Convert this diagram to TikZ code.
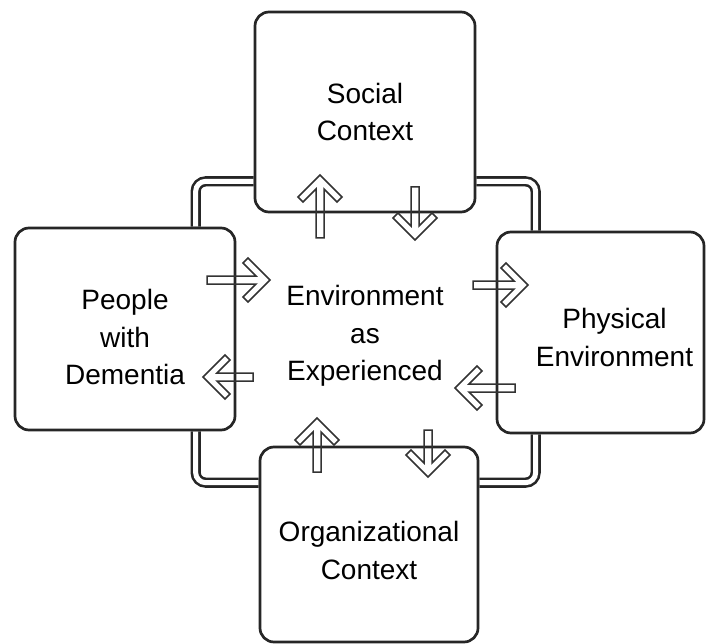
\documentclass[tikz,border=0pt]{standalone}
\usepackage{fontspec}
\setmainfont{Liberation Sans}
\usetikzlibrary{backgrounds}

% hollow block arrow: tip x, tip y, angle, length
\newcommand{\hollowarrow}[4]{%
  \draw [harrow, shift={(#1,#2)}, rotate=#3]
    (0,0) -- (-22,22) -- (-27,17) -- (-14,4) -- (-#4,4)
    -- (-#4,-4) -- (-14,-4) -- (-27,-17) -- (-22,-22) -- cycle;}

\begin{document}
\begin{tikzpicture}[x=1pt, y=-1pt,
    txt/.style = {align=center, font=\fontsize{28}{37.5}\selectfont},
    box/.style = {txt, draw=black!85, line width=2.7pt, rounded corners=14pt, fill=white},
    link/.style = {draw=black!85, double, double distance=5pt, line width=2.6pt, rounded corners=10pt},
    harrow/.style = {draw=black!80, line width=1.5pt, line join=miter}]

    \useasboundingbox (0,0) rectangle (706,644);

    \node (social) [box, minimum width=220pt, minimum height=200pt] at (365,112) {Social\\Context};
    \node (people) [box, minimum width=220pt, minimum height=202pt,
      label={[txt, yshift=-8pt]center:{People\\with\\Dementia}}] at (125,329) {};
    \node (physical) [box, minimum width=207pt, minimum height=201pt,
      label={[txt, xshift=14pt, yshift=-5pt]center:{Physical\\Environment}}] at (600.5,332.5) {};
    \node (organizational) [box, minimum width=218pt, minimum height=195pt,
      label={[txt, yshift=-6pt]center:{Organizational\\Context}}] at (369,544.5) {};
    \node (experienced) [txt] at (365,336) {Environment\\as\\Experienced};

    \begin{scope}[on background layer]
      \draw [link] ([yshift=32pt]social.south west) -| ([xshift=182pt]people.north west);
      \draw [link] ([yshift=32pt]social.south east) -| ([xshift=40pt]physical.north west);
      \draw [link] ([xshift=182pt]people.south west) |- ([yshift=-37pt]organizational.north west);
      \draw [link] ([xshift=40pt]physical.south west) |- ([yshift=-37pt]organizational.north east);
    \end{scope}

    \hollowarrow{320}{175}{90}{63}
    \hollowarrow{415}{240}{-90}{53}
    \hollowarrow{270}{280}{0}{63}
    \hollowarrow{203}{377}{180}{50}
    \hollowarrow{528}{285}{0}{55}
    \hollowarrow{455}{388}{180}{60}
    \hollowarrow{317}{418}{90}{54}
    \hollowarrow{428}{477}{-90}{47}
\end{tikzpicture}
\end{document}
